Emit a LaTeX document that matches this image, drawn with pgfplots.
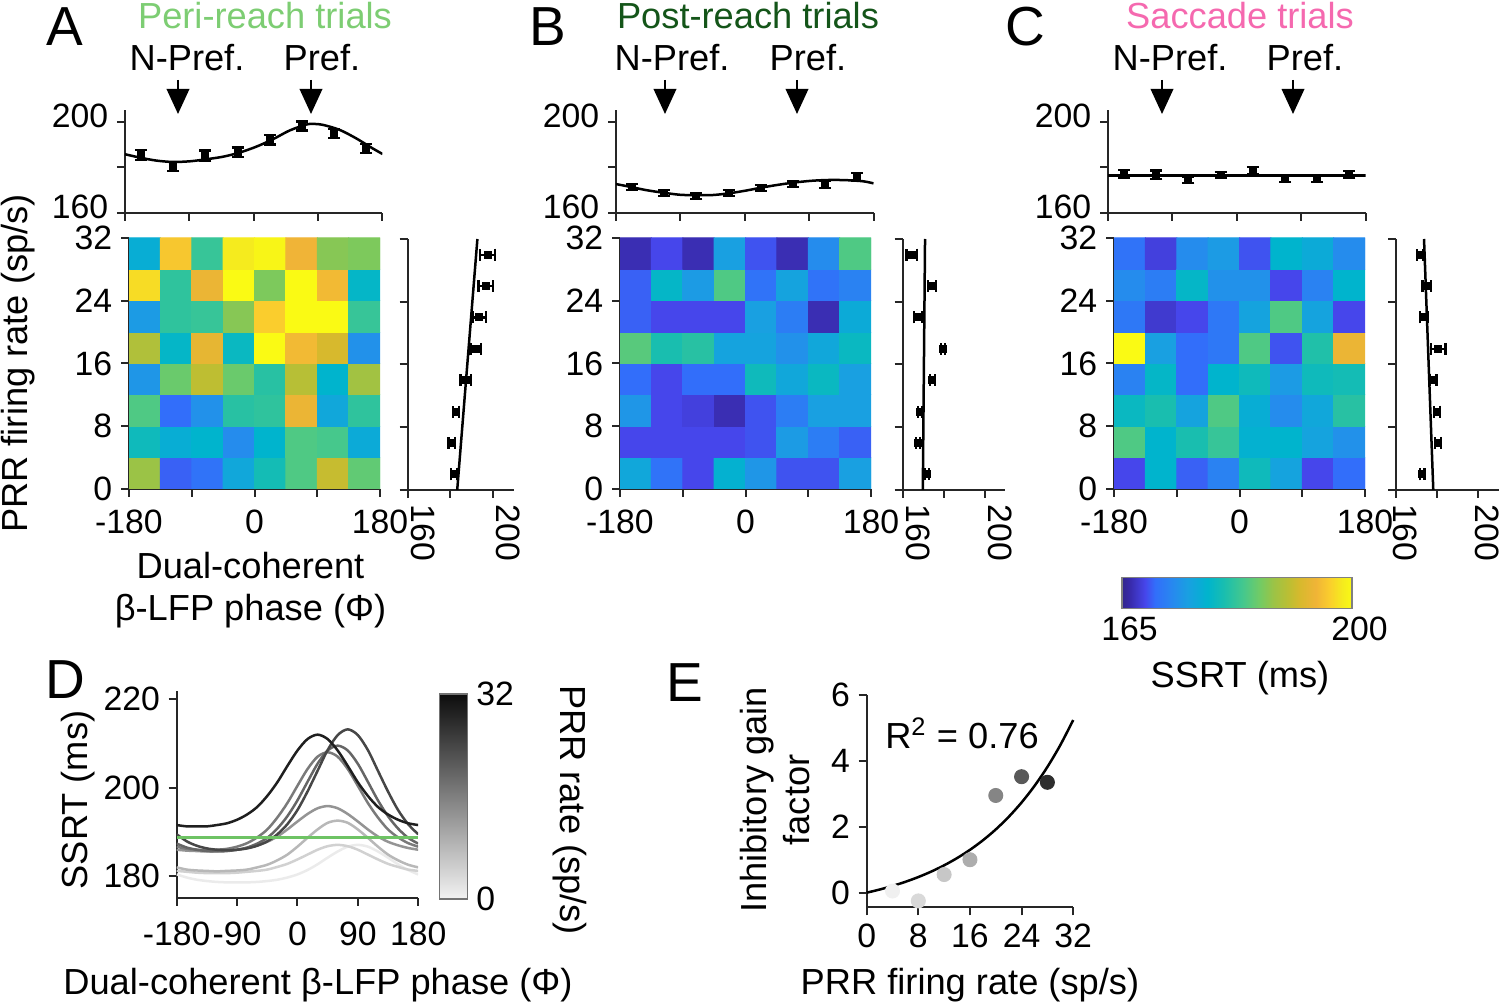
\documentclass[border=0pt]{standalone}
\usepackage{fontspec}
\setmainfont{Liberation Sans}
\usepackage{graphicx}
\usepackage{pgfplots}
\pgfplotsset{compat=1.18}
\usetikzlibrary{arrows.meta}
\newcommand\tf{\fontsize{13.5}{15}\selectfont}
\newcommand\lf{\fontsize{14.5}{17}\selectfont}
\definecolor{peri}{RGB}{125,205,115}
\definecolor{post}{RGB}{20,85,25}
\definecolor{sacc}{RGB}{245,105,175}
\definecolor{gline}{RGB}{110,195,100}
\pgfplotsset{
  colormap={parula}{rgb255(0)=(50,38,140) rgb255(10)=(55,40,165) rgb255(35)=(70,70,235)
    rgb255(50)=(50,110,250) rgb255(75)=(40,135,240) rgb255(100)=(25,160,225)
    rgb255(130)=(0,180,205) rgb255(155)=(25,190,175) rgb255(185)=(70,200,140)
    rgb255(210)=(115,203,100) rgb255(230)=(155,195,70) rgb255(255)=(190,190,50)
    rgb255(270)=(215,185,45) rgb255(295)=(240,180,55) rgb255(315)=(250,205,45)
    rgb255(335)=(245,235,30) rgb255(350)=(250,250,20)},
  mat/.style={scale only axis, axis lines*=left, tick align=outside,
    axis line style={black!85, line width=0.8pt, -},
    every tick/.style={black!85, line width=0.8pt},
    major tick length=3.2pt,
    tick label style={font=\tf, black},
    label style={font=\lf},
    anchor=south west},
  heat/.style={mat, width=100.4pt, height=100.4pt, xmin=-180, xmax=180, ymin=0, ymax=32,
    xtick={-180,-90,0,90,180}, xticklabels={-180,,0,,180},
    ytick={0,8,16,24,32}, yticklabels={0,8,16,24,32},
    x tick label style={yshift=-1.5pt},
    colormap name=parula, point meta min=165, point meta max=200},
  top/.style={mat, width=103pt, height=41pt, xmin=-180, xmax=180, ymin=160, ymax=205,
    xtick={-180,-90,0,90,180}, xticklabels={}, ytick={160,180,200}, yticklabels={160,,200},
    y tick label style={yshift=2.5pt}},
  side/.style={mat, width=41pt, height=100.4pt, xmin=160, xmax=210, ymin=0, ymax=32,
    xtick={160,180,200}, xticklabels={\rotatebox{-90}{160},,\rotatebox{-90}{200}},
    ytick={0,8,16,24,32}, yticklabels={},
    x tick label style={anchor=north west, inner sep=0pt, yshift=-2.5pt}},
  eby/.style={black, only marks, mark=square*, mark size=1.4pt,
    error bars/.cd, y dir=both, y explicit, error mark=|,
    error bar style={line width=0.9pt, black},
    error mark options={line width=0.9pt, mark size=2.4pt, black}},
  ebx/.style={black, only marks, mark=square*, mark size=1.4pt,
    error bars/.cd, x dir=both, x explicit, error mark=|,
    error bar style={line width=0.9pt, black},
    error mark options={line width=0.9pt, mark size=2.4pt, black}},
  fit/.style={black, line width=1pt, no marks},
  dc/.style={line width=1pt, no marks, smooth},
}
\begin{document}
\begin{tikzpicture}[x=0.4pt,y=0.4pt]
\useasboundingbox (0,0) rectangle (1500,1006);
\coordinate (hA) at (129,517);
\coordinate (hB) at (620,517);
\coordinate (hC) at (1114,517);
\coordinate (tA) at (125,793);
\coordinate (tB) at (616,793);
\coordinate (tC) at (1108,793);
\coordinate (sA) at (407.7,516);
\coordinate (sB) at (902.7,516);
\coordinate (sC) at (1396,516);
\coordinate (dD) at (176.7,108.2);
\coordinate (eE) at (866.7,98.5);

% ---------------- heatmaps ----------------
\begin{axis}[heat, at={(hA)}, ylabel={PRR firing rate (sp/s)},
  ylabel style={at={(axis description cs:-0.44,0.5)}, anchor=center},
  xlabel={Dual-coherent\\β-LFP phase (Φ)},
  xlabel style={align=center, at={(axis description cs:0.484,-0.402)}, anchor=center}]
\addplot[matrix plot*, mesh/cols=8, mesh/rows=8, point meta=explicit] coordinates {
(-157.5,2)[188] (-112.5,2)[169.5] (-67.5,2)[170.5] (-22.5,2)[176] (22.5,2)[180] (67.5,2)[184] (112.5,2)[191] (157.5,2)[185]
(-157.5,6)[179.5] (-112.5,6)[177] (-67.5,6)[178] (-22.5,6)[173] (22.5,6)[178] (67.5,6)[184] (112.5,6)[183.5] (157.5,6)[176.5]
(-157.5,10)[184] (-112.5,10)[170] (-67.5,10)[173.5] (-22.5,10)[181.5] (22.5,10)[182] (67.5,10)[194] (112.5,10)[176] (157.5,10)[182]
(-157.5,14)[174] (-112.5,14)[185.5] (-67.5,14)[190.5] (-22.5,14)[185.5] (22.5,14)[181.5] (67.5,14)[190] (112.5,14)[178] (157.5,14)[188.5]
(-157.5,18)[189.5] (-112.5,18)[178.5] (-67.5,18)[193.5] (-22.5,18)[179] (22.5,18)[200] (67.5,18)[195] (112.5,18)[192] (157.5,18)[173.5]
(-157.5,22)[174.5] (-112.5,22)[182] (-67.5,22)[182.5] (-22.5,22)[187] (22.5,22)[196.5] (67.5,22)[200] (112.5,22)[200] (157.5,22)[182.5]
(-157.5,26)[197.5] (-112.5,26)[182] (-67.5,26)[194] (-22.5,26)[200] (22.5,26)[186.5] (67.5,26)[200] (112.5,26)[195] (157.5,26)[178.5]
(-157.5,30)[177] (-112.5,30)[196] (-67.5,30)[182.5] (-22.5,30)[198.5] (22.5,30)[199.5] (67.5,30)[194.5] (112.5,30)[187] (157.5,30)[186.5]
};
\end{axis}

\begin{axis}[heat, at={(hB)}]
\addplot[matrix plot*, mesh/cols=8, mesh/rows=8, point meta=explicit] coordinates {
(-157.5,2)[176] (-112.5,2)[170.5] (-67.5,2)[168.5] (-22.5,2)[177.5] (22.5,2)[174] (67.5,2)[169] (112.5,2)[169] (157.5,2)[175]
(-157.5,6)[168.5] (-112.5,6)[168.5] (-67.5,6)[168.5] (-22.5,6)[168.5] (22.5,6)[169] (67.5,6)[174.5] (112.5,6)[171.5] (157.5,6)[169.5]
(-157.5,10)[174] (-112.5,10)[168.5] (-67.5,10)[168] (-22.5,10)[166.5] (22.5,10)[169] (67.5,10)[171.5] (112.5,10)[175] (157.5,10)[175]
(-157.5,14)[170] (-112.5,14)[168.5] (-67.5,14)[170] (-22.5,14)[170] (22.5,14)[179.5] (67.5,14)[176] (112.5,14)[179] (157.5,14)[175]
(-157.5,18)[184.5] (-112.5,18)[180.5] (-67.5,18)[181.5] (-22.5,18)[175.5] (22.5,18)[175.5] (67.5,18)[173.5] (112.5,18)[176] (157.5,18)[179]
(-157.5,22)[169.5] (-112.5,22)[168.5] (-67.5,22)[168.5] (-22.5,22)[168.5] (22.5,22)[175] (67.5,22)[171.5] (112.5,22)[166.5] (157.5,22)[176.5]
(-157.5,26)[169.5] (-112.5,26)[178.5] (-67.5,26)[174.5] (-22.5,26)[184] (22.5,26)[170.5] (67.5,26)[175.5] (112.5,26)[170.5] (157.5,26)[172]
(-157.5,30)[166.5] (-112.5,30)[168.5] (-67.5,30)[166.5] (-22.5,30)[175] (22.5,30)[169] (67.5,30)[166.5] (112.5,30)[173] (157.5,30)[184]
};
\end{axis}

\begin{axis}[heat, at={(hC)}, colorbar horizontal,
  colorbar style={scale only axis, at={(parent axis.south west)}, anchor=north west,
    xshift=3.2pt, yshift=-26.8pt, width=92pt, height=12.4pt,
    xtick={165,200}, xticklabels={165,200}, major tick length=0pt,
    x tick label style={xshift=3pt},
    axis line style={black!50, line width=0.5pt},
    tick label style={font=\tf},
    xlabel={SSRT (ms)},
    xlabel style={font=\lf, at={(axis description cs:0.513,-2.26)}, anchor=center}}]
\addplot[matrix plot*, mesh/cols=8, mesh/rows=8, point meta=explicit] coordinates {
(-157.5,2)[168.5] (-112.5,2)[178] (-67.5,2)[169.5] (-22.5,2)[172] (22.5,2)[179.5] (67.5,2)[175.5] (112.5,2)[168.5] (157.5,2)[170]
(-157.5,6)[184] (-112.5,6)[178] (-67.5,6)[180.5] (-22.5,6)[182.5] (22.5,6)[177.5] (67.5,6)[178] (112.5,6)[175.5] (157.5,6)[173.5]
(-157.5,10)[179] (-112.5,10)[180.5] (-67.5,10)[175.5] (-22.5,10)[184] (22.5,10)[177] (67.5,10)[173] (112.5,10)[176] (157.5,10)[181.5]
(-157.5,14)[172] (-112.5,14)[178.5] (-67.5,14)[170] (-22.5,14)[178] (22.5,14)[179.5] (67.5,14)[174.5] (112.5,14)[179.5] (157.5,14)[180]
(-157.5,18)[200] (-112.5,18)[175] (-67.5,18)[170] (-22.5,18)[171] (22.5,18)[184] (67.5,18)[169] (112.5,18)[181] (157.5,18)[194]
(-157.5,22)[171] (-112.5,22)[167.5] (-67.5,22)[168.5] (-22.5,22)[171] (22.5,22)[175.5] (67.5,22)[184] (112.5,22)[175.5] (157.5,22)[168.5]
(-157.5,26)[173] (-112.5,26)[171.5] (-67.5,26)[178.5] (-22.5,26)[173.5] (22.5,26)[173.5] (67.5,26)[168.5] (112.5,26)[172] (157.5,26)[178]
(-157.5,30)[170.5] (-112.5,30)[168] (-67.5,30)[173] (-22.5,30)[174.5] (22.5,30)[169] (67.5,30)[178] (112.5,30)[176.5] (157.5,30)[173]
};
\end{axis}

% ---------------- top tuning curves ----------------
\begin{axis}[top, at={(tA)}]
\addplot[fit, smooth] coordinates {(-180,185.8) (-159,184.3) (-136,183.0) (-113,182.4) (-89,182.7) (-66,183.6) (-43,184.7) (-20,186.5) (3.5,189.1) (27,192.4) (50,196.2) (73,198.8) (82.5,199.1) (96.5,198.7) (120,196.5) (143,192.8) (166,188.4) (180,185.9)};
\addplot[eby] coordinates {(-157.5,185.5)+-(0,2.3) (-112.5,180.4)+-(0,2) (-67.5,185.1)+-(0,2.3) (-22.5,186.7)+-(0,2) (22.5,192.1)+-(0,2) (67.5,198.2)+-(0,2) (112.5,195.0)+-(0,2) (157.5,188.4)+-(0,2)};
\end{axis}

\begin{axis}[top, at={(tB)}]
\addplot[fit, smooth] coordinates {(-180,172.7) (-160.4,171.5) (-137.1,170.0) (-113.8,168.9) (-90.5,168.0) (-67.2,167.8) (-43.8,167.9) (-20.5,168.7) (2.8,169.9) (26.1,171.3) (49.4,172.5) (72.7,173.5) (96.1,174.2) (119.4,174.5) (142.7,174.4) (166,173.9) (180,173.0)};
\addplot[eby] coordinates {(-157.5,171.3)+-(0,1.3) (-112.5,168.7)+-(0,1.3) (-67.5,167.5)+-(0,1.3) (-22.5,168.9)+-(0,1.3) (22.5,171.1)+-(0,1.3) (67.5,172.7)+-(0,1.3) (112.5,172.6)+-(0,1.6) (157.5,175.7)+-(0,1.8)};
\end{axis}

\begin{axis}[top, at={(tC)}]
\addplot[fit] coordinates {(-180,176.4) (180,176.4)};
\addplot[eby] coordinates {(-157.5,177.1)+-(0,1.8) (-112.5,176.8)+-(0,1.8) (-67.5,174.5)+-(0,1.3) (-22.5,176.8)+-(0,1.3) (22.5,178.5)+-(0,1.6) (67.5,174.8)+-(0,1.3) (112.5,174.8)+-(0,1.3) (157.5,176.8)+-(0,1.6)};
\end{axis}

% ---------------- side panels ----------------
\begin{axis}[side, at={(sA)}, width=42.5pt, x tick label style={xshift=1pt}]
\addplot[fit] coordinates {(183.3,0) (192.8,32)};
\addplot[ebx] coordinates {(197.6,30)+-(3.5,0) (196.8,26)+-(3.5,0) (193.7,22)+-(3,0) (192.0,18)+-(2.5,0) (187.4,14)+-(2.5,0) (182.7,10)+-(1.5,0) (180.7,6)+-(1.5,0) (181.8,2)+-(1.5,0)};
\end{axis}

\begin{axis}[side, at={(sB)}, width=41pt, x tick label style={xshift=1pt}]
\addplot[fit] coordinates {(169.8,0) (170.9,32)};
\addplot[ebx] coordinates {(164.4,30)+-(2.5,0) (174.4,26)+-(2,0) (167.6,22)+-(2,0) (179.8,18)+-(1,0) (174.4,14)+-(1.2,0) (168.4,10)+-(1,0) (167.3,6)+-(1,0) (172.0,2)+-(1,0)};
\end{axis}

\begin{axis}[side, at={(sC)}, width=41.2pt, x tick label style={xshift=-1.5pt}]
\addplot[fit] coordinates {(178.1,0) (173.6,32)};
\addplot[ebx] coordinates {(171.7,30)+-(1.5,0) (174.9,26)+-(2,0) (173.7,22)+-(2,0) (180.5,18)+-(3.5,0) (178.1,14)+-(1.5,0) (179.8,10)+-(1.5,0) (180.5,6)+-(1.5,0) (172.8,2)+-(1,0)};
\end{axis}

% ---------------- panel D ----------------
\begin{axis}[mat, at={(dD)}, width=96.6pt, height=82.9pt,
  xmin=-180, xmax=180, ymin=175, ymax=222,
  xtick={-180,-90,0,90,180}, xticklabels={-180,-90,0,90,180},
  x tick label style={yshift=-3pt},
  ytick={180,200,220}, yticklabels={180,200,220},
  xlabel={Dual-coherent β-LFP phase (Φ)},
  xlabel style={at={(axis description cs:0.585,-0.42)}, anchor=center},
  ylabel={SSRT (ms)},
  ylabel style={at={(axis description cs:-0.409,0.472)}, anchor=center},
  colormap={bw}{gray=(0.95) gray=(0.05)}, point meta min=0, point meta max=32,
  colorbar,
  colorbar style={scale only axis, at={(parent axis.north east)}, anchor=north west,
    xshift=0pt, yshift=-1.4pt, width=11.2pt, height=82pt,
    ytick={0,32}, yticklabels={0,32}, major tick length=0pt,
    axis line style={black!55, line width=0.5pt},
    tick label style={font=\tf},
    ylabel={PRR rate (sp/s)},
    every axis y label/.style={at={(axis description cs:4.64,0.434)}, rotate=-90, anchor=center, font=\lf}}]
\addplot[dc, black!8] coordinates {(-180,180.3) (-165,179.6) (-150,179.1) (-135,178.8) (-120,178.6) (-105,178.5) (-90,178.5) (-75,178.5) (-60,178.6) (-45,178.8) (-30,179.1) (-15,179.6) (0,180.3) (15,181.3) (30,182.6) (45,184.1) (60,185.5) (75,186.6) (90,187.0) (105,186.6) (120,185.5) (135,184.1) (150,182.6) (165,181.3) (180,180.3)};
\addplot[dc, black!18] coordinates {(-180,181.1) (-165,180.9) (-150,180.7) (-135,180.6) (-120,180.6) (-105,180.6) (-90,180.7) (-75,180.9) (-60,181.1) (-45,181.4) (-30,182.0) (-15,182.7) (0,183.7) (15,184.8) (30,185.9) (45,186.7) (60,187.0) (75,186.7) (90,185.9) (105,184.8) (120,183.7) (135,182.7) (150,182.0) (165,181.4) (180,181.1)};
\addplot[dc, black!28] coordinates {(-180,181.9) (-165,181.4) (-150,181.2) (-135,181.1) (-120,181.0) (-105,181.1) (-90,181.2) (-75,181.4) (-60,181.9) (-45,182.5) (-30,183.5) (-15,184.8) (0,186.6) (15,188.6) (30,190.5) (45,192.0) (60,192.5) (75,192.0) (90,190.5) (105,188.6) (120,186.6) (135,184.8) (150,183.5) (165,182.5) (180,181.9)};
\addplot[dc, black!42] coordinates {(-180,185.9) (-165,185.7) (-150,185.6) (-135,185.5) (-120,185.6) (-105,185.7) (-90,185.9) (-75,186.3) (-60,186.9) (-45,187.7) (-30,188.9) (-15,190.5) (0,192.3) (15,194.0) (30,195.3) (45,195.8) (60,195.3) (75,194.0) (90,192.3) (105,190.5) (120,188.9) (135,187.7) (150,186.9) (165,186.3) (180,185.9)};
\addplot[dc, black!52] coordinates {(-180,186.6) (-165,186.1) (-150,185.9) (-135,185.8) (-120,185.9) (-105,186.1) (-90,186.6) (-75,187.4) (-60,188.7) (-45,190.5) (-30,193.2) (-15,196.5) (0,200.4) (15,204.2) (30,207.0) (45,208.0) (60,207.0) (75,204.2) (90,200.4) (105,196.5) (120,193.2) (135,190.5) (150,188.7) (165,187.4) (180,186.6)};
\addplot[dc, black!60] coordinates {(-180,187.3) (-165,186.4) (-150,185.9) (-135,185.6) (-120,185.5) (-105,185.6) (-90,185.9) (-75,186.4) (-60,187.3) (-45,188.6) (-30,190.7) (-15,193.5) (0,197.1) (15,201.3) (30,205.4) (45,208.4) (60,209.5) (75,208.4) (90,205.4) (105,201.3) (120,197.1) (135,193.5) (150,190.7) (165,188.6) (180,187.3)};
\addplot[dc, black!72] coordinates {(-180,189.4) (-165,187.8) (-150,186.8) (-135,186.2) (-120,185.9) (-105,185.8) (-90,185.9) (-75,186.2) (-60,186.8) (-45,187.8) (-30,189.4) (-15,191.7) (0,194.9) (15,199.1) (30,203.8) (45,208.5) (60,211.9) (75,213.2) (90,211.9) (105,208.5) (120,203.8) (135,199.1) (150,194.9) (165,191.7) (180,189.4)};
\addplot[dc, black!88] coordinates {(-180,191.5) (-165,191.2) (-150,191.2) (-135,191.2) (-120,191.5) (-105,191.9) (-90,192.7) (-75,193.9) (-60,195.6) (-45,198.1) (-30,201.2) (-15,204.9) (0,208.4) (15,211.0) (30,212.0) (45,211.0) (60,208.4) (75,204.9) (90,201.2) (105,198.1) (120,195.6) (135,193.9) (150,192.7) (165,191.9) (180,191.5)};
\addplot[gline, line width=1.1pt, no marks] coordinates {(-180,188.7) (180,188.7)};
\end{axis}

% ---------------- panel E ----------------
\begin{axis}[mat, at={(eE)}, width=82.6pt, height=85pt, clip=false,
  xmin=0, xmax=32, ymin=-0.45, ymax=6,
  xtick={0,8,16,24,32}, xticklabels={0,8,16,24,32},
  ytick={0,2,4,6}, yticklabels={0,2,4,6},
  xlabel={PRR firing rate (sp/s)},
  xlabel style={at={(axis description cs:0.5,-0.365)}, anchor=center},
  ylabel={Inhibitory gain\\factor},
  ylabel style={align=center, at={(axis description cs:-0.444,0.506)}, anchor=center}]
\addplot[fit, smooth] coordinates {(0,0) (2,0.095) (4,0.204) (6,0.330) (8,0.474) (10,0.640) (12,0.830) (14,1.049) (16,1.300) (18,1.588) (20,1.919) (22,2.300) (24,2.737) (26,3.239) (28,3.816) (30,4.478) (32,5.239)};
\addplot[only marks, mark=*, mark size=2.8pt, black!6] coordinates {(4,0.05)};
\addplot[only marks, mark=*, mark size=2.8pt, black!15] coordinates {(8,-0.25)};
\addplot[only marks, mark=*, mark size=2.8pt, black!22] coordinates {(12,0.55)};
\addplot[only marks, mark=*, mark size=2.8pt, black!32] coordinates {(16,1.0)};
\addplot[only marks, mark=*, mark size=2.8pt, black!48] coordinates {(20,2.95)};
\addplot[only marks, mark=*, mark size=2.8pt, black!65] coordinates {(24,3.52)};
\addplot[only marks, mark=*, mark size=2.8pt, black!82] coordinates {(28,3.35)};
\end{axis}

% ---------------- annotations ----------------
\node[font=\fontsize{22}{24}\selectfont] at (65,979) {A};
\node[font=\fontsize{22}{24}\selectfont] at (548,979) {B};
\node[font=\fontsize{22}{24}\selectfont] at (1025,979) {C};
\node[font=\fontsize{22}{24}\selectfont] at (65,326) {D};
\node[font=\fontsize{22}{24}\selectfont] at (685,323) {E};
\node[font=\lf, text=peri] at (265,990) {Peri-reach trials};
\node[font=\lf, text=post] at (748,990) {Post-reach trials};
\node[font=\lf, text=sacc] at (1240,990) {Saccade trials};
\foreach \xa/\xb/\xn/\xp in {178/311/187/322, 665/797/672/808, 1162/1293/1170/1305}{
  \node[font=\lf] at (\xn,948) {N-Pref.};
  \node[font=\lf] at (\xp,948) {Pref.};
  \draw[line width=0.8pt, -{Triangle[width=9pt,length=10pt]}] (\xa,926) -- (\xa,892);
  \draw[line width=0.8pt, -{Triangle[width=9pt,length=10pt]}] (\xb,926) -- (\xb,892);
}
\node[font=\lf] at (962,273) {R\textsuperscript{2} = 0.76};
\end{tikzpicture}
\end{document}
